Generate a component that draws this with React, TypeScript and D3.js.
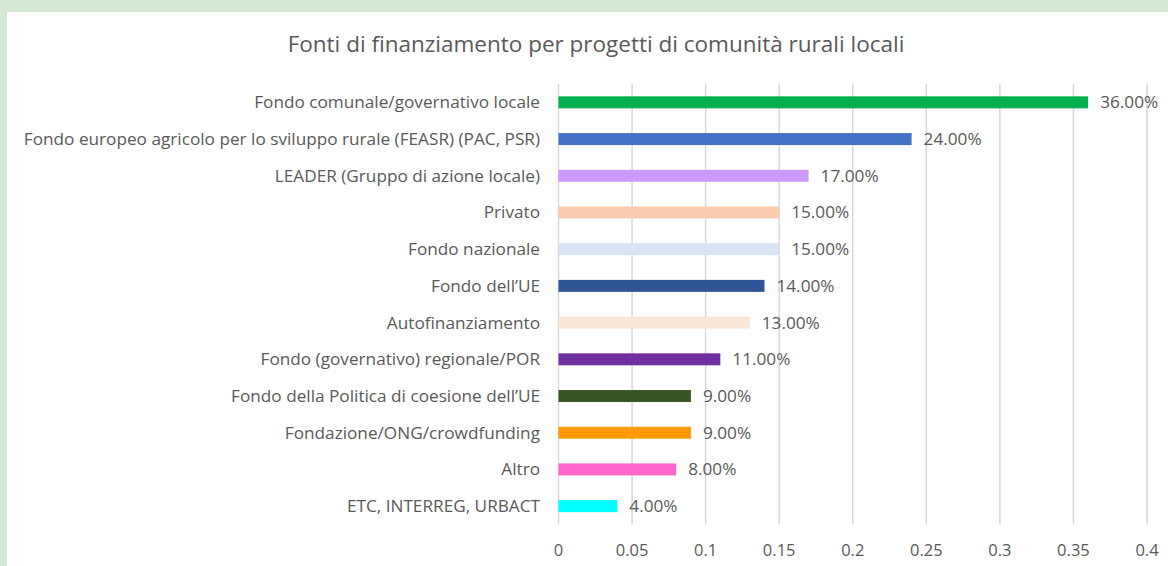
import * as d3 from 'd3';

const categories = [
  'Fondo comunale/governativo locale',
  'Fondo europeo agricolo per lo sviluppo rurale (FEASR) (PAC, PSR)',
  'LEADER (Gruppo di azione locale)',
  'Privato',
  'Fondo nazionale',
  'Fondo dell\u2019UE',
  'Autofinanziamento',
  'Fondo (governativo) regionale/POR',
  'Fondo della Politica di coesione dell\u2019UE',
  'Fondazione/ONG/crowdfunding',
  'Altro',
  'ETC, INTERREG, URBACT',
];
const values = [0.36, 0.24, 0.17, 0.15, 0.15, 0.14, 0.13, 0.11, 0.09, 0.09, 0.08, 0.04];
const colors = [
  '#00B050', '#4472C4', '#CC99FF', '#F8CBAD', '#DAE3F3', '#2F5597',
  '#FBE5D6', '#7030A0', '#375623', '#FF9900', '#FF66CC', '#00FFFF',
];
const xTicks = [0, 0.05, 0.1, 0.15, 0.2, 0.25, 0.3, 0.35, 0.4];
const title = 'Fonti di finanziamento per progetti di comunità rurali locali';

const W = 1168;
const H = 566;
const FONT = "'Open Sans', 'Noto Sans', sans-serif";
const TEXT = '#595959';

export default function App() {
  const x = d3.scaleLinear().domain([0, 0.4]).range([558.5, 1147]);
  const y = d3.scaleBand<string>().domain(categories).range([84, 524.5]).paddingInner(0.67).paddingOuter(0.335);
  const bw = 12;

  return (
    <svg
      width={W}
      height={H}
      style={{ position: 'fixed', left: 0, top: 0, display: 'block' }}
      fontFamily={FONT}
    >
      <rect x={0} y={0} width={W} height={H} fill="#D5E8D4" />
      <rect x={7} y={12} width={W - 7} height={H - 12} fill="#FFFFFF" />

      <text x={596} y={52} textAnchor="middle" fontSize={22.5} fill={TEXT}>
        {title}
      </text>

      {/* gridlines */}
      {xTicks.map((t) => (
        <line
          key={'g' + t}
          x1={x(t)}
          x2={x(t)}
          y1={84}
          y2={524.5}
          stroke="#D9D9D9"
          strokeWidth={1.5}
        />
      ))}

      {/* tick labels */}
      {xTicks.map((t) => (
        <text
          key={'t' + t}
          x={x(t)}
          y={556}
          textAnchor="middle"
          fontSize={16.5}
          fill={TEXT}
        >
          {String(t)}
        </text>
      ))}

      {/* bars */}
      {categories.map((c, i) => {
        const cy = (y(c) as number) + y.bandwidth() / 2;
        return (
          <g key={c}>
            <rect
              x={x(0)}
              y={cy - bw / 2}
              width={x(values[i]) - x(0)}
              height={bw}
              fill={colors[i]}
            />
            <text
              x={540}
              y={cy}
              dy="0.35em"
              textAnchor="end"
              fontSize={17.2}
              fill={TEXT}
            >
              {c}
            </text>
            <text
              x={x(values[i]) + 12}
              y={cy}
              dy="0.35em"
              fontSize={17.2}
              fill={TEXT}
            >
              {(values[i] * 100).toFixed(2) + '%'}
            </text>
          </g>
        );
      })}
    </svg>
  );
}
